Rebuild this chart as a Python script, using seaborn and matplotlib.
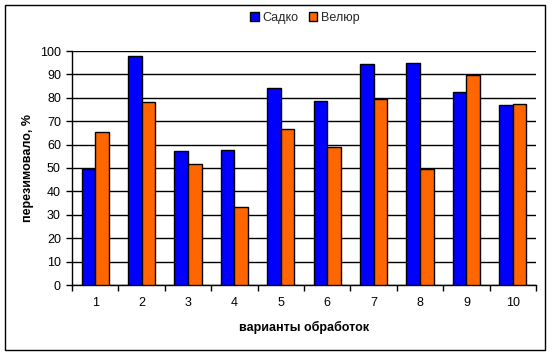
import matplotlib
matplotlib.use("Agg")
import matplotlib.pyplot as plt
import matplotlib.patches as mpatches
from matplotlib.ticker import FixedLocator, MultipleLocator
import seaborn as sns
import pandas as pd

variants = ["1", "2", "3", "4", "5", "6", "7", "8", "9", "10"]
sadko = [49.6, 97.9, 57.2, 57.6, 84.0, 78.5, 94.3, 94.7, 82.3, 76.8]
velour = [65.3, 78.1, 51.6, 33.2, 66.5, 58.8, 79.4, 49.6, 89.7, 77.2]
series_names = ["Садко", "Велюр"]
colors = ["#0000FF", "#FF6600"]

df = pd.DataFrame({
    "variant": variants * 2,
    "value": sadko + velour,
    "sort": [series_names[0]] * len(variants) + [series_names[1]] * len(variants),
})

sns.set_theme(style="white")
plt.rcParams["font.family"] = ["Liberation Sans", "DejaVu Sans"]

fig = plt.figure(figsize=(5.52, 3.56), dpi=100)
ax = fig.add_axes([72 / 552, 1 - 285 / 356, (536 - 72) / 552, (285 - 51) / 356])

sns.barplot(data=df, x="variant", y="value", hue="sort", order=variants,
            hue_order=series_names, palette=colors, width=0.59, gap=0,
            edgecolor="black", linewidth=1, saturation=1, ax=ax, zorder=3,
            legend=False, errorbar=None)

ax.set_xlim(-0.5, len(variants) - 0.5)
ax.set_ylim(0, 100)
ax.yaxis.set_major_locator(MultipleLocator(10))
ax.grid(axis="y", color="black", linewidth=1, zorder=0)
ax.set_axisbelow(True)

for s in ["top", "right"]:
    ax.spines[s].set_visible(False)
for s in ["left", "bottom"]:
    ax.spines[s].set_color("black")
    ax.spines[s].set_linewidth(1)

ax.xaxis.set_minor_locator(FixedLocator([i - 0.5 for i in range(len(variants) + 1)]))
ax.tick_params(axis="x", which="major", length=0, pad=9, labelsize=9, colors="black")
ax.tick_params(axis="x", which="minor", length=4, width=1, color="black", bottom=True, direction="out")
ax.tick_params(axis="y", which="major", length=4, width=1, color="black", left=True, direction="out", labelsize=9, labelcolor="black", pad=4)

ax.set_xlabel("варианты обработок", fontsize=9, fontweight="bold", color="black")
ax.set_ylabel("перезимовало, %", fontsize=9, fontweight="bold", color="black")
ax.xaxis.set_label_coords((304 - 72) / 464, (285 - 327) / 234)
ax.yaxis.set_label_coords((28 - 72) / 464, (285 - 168) / 234)
ax.xaxis.label.set_va("center")
ax.yaxis.label.set_va("center")

handles = [mpatches.Patch(facecolor=c, edgecolor="black", linewidth=1, label=n)
           for c, n in zip(colors, series_names)]
fig.legend(handles=handles, loc="center", bbox_to_anchor=(305 / 552, 1 - 18 / 356),
           ncol=2, frameon=False, fontsize=9, handlelength=0.7, handleheight=0.7,
           handletextpad=0.3, columnspacing=0.8)

fig.patches.append(mpatches.Rectangle((5 / 552, 1 - 350 / 356), 540 / 552, 345 / 356,
                                      transform=fig.transFigure, fill=False,
                                      edgecolor="black", linewidth=1))

fig.savefig("out.png", dpi=100, facecolor="white")
